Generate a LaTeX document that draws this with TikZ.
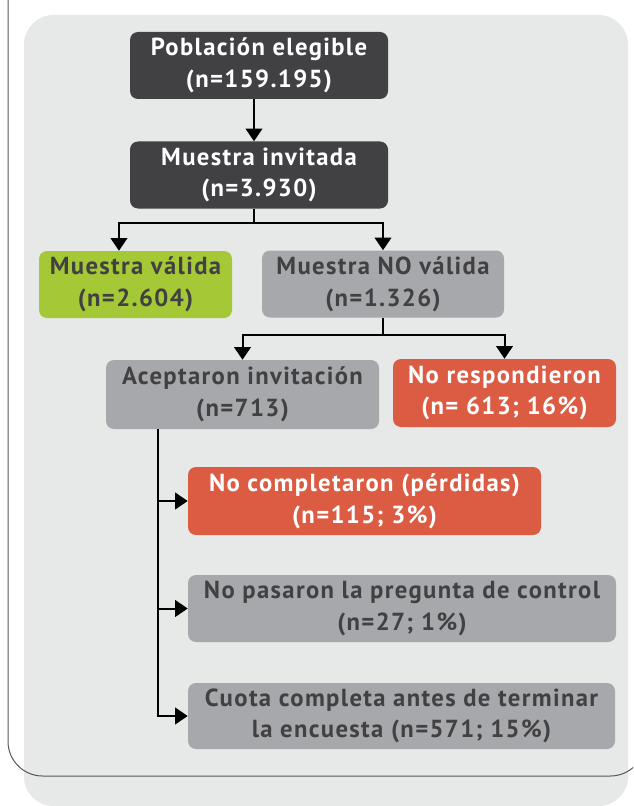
\documentclass[tikz,border=0pt]{standalone}
\usepackage{fontspec}
\setmainfont{PT Sans}
\newfontfamily\cajafont{PT Sans}[LetterSpace=5.5]
\usetikzlibrary{arrows.meta}

\definecolor{fondo}{HTML}{E6E9E8}
\definecolor{oscuro}{HTML}{414042}
\definecolor{verde}{HTML}{A5C936}
\definecolor{gris}{HTML}{A7A8AB}
\definecolor{rojo}{HTML}{DB5B43}
\definecolor{marco}{HTML}{58585A}

\begin{document}
\begin{tikzpicture}[x=0.75pt,y=-0.75pt,
    caja/.style={rounded corners=6pt,align=center,inner sep=0pt,
      font=\cajafont\fontsize{18.5}{23.8}\selectfont\bfseries,minimum height=50.25pt},
    oscura/.style={caja,fill=oscuro,text=white},
    valida/.style={caja,fill=verde,text=oscuro},
    neutra/.style={caja,fill=gris,text=oscuro},
    perdida/.style={caja,fill=rojo,text=white},
    linea/.style={line width=1.5pt},
    flecha/.style={linea,-{Triangle[length=9.5pt,width=12.5pt]}}]

  \useasboundingbox (0,0) rectangle (633,806);
  \clip (0,0) rectangle (633,806);

  % fondo y marco
  \fill[fondo,rounded corners=22pt] (24,15) rectangle (628,806);
  \draw[marco,line width=0.75pt,rounded corners=26pt] (8,-60) -- (8,776) -- (645,776) -- (645,-60);

  \node[oscura,minimum width=193.5pt] (1) at (259,65.5) {Población elegible\\(n=159.195)};
  \node[oscura,minimum width=193.5pt] (2) at (259,175) {Muestra invitada\\(n=3.930)};
  \node[valida,minimum width=144.75pt] (3) at (135.5,284.5) {Muestra válida\\(n=2.604)};
  \node[neutra,minimum width=181.5pt] (4) at (383,284) {Muestra NO válida\\(n=1.326)};
  \node[neutra,minimum width=204.75pt,minimum height=51.75pt] (5) at (242.5,394.5) {Aceptaron invitación\\(n=713)};
  \node[perdida,minimum width=167.25pt,minimum height=51pt] (6) at (504.5,393) {No respondieron\\(n= 613; 16\%)};
  \node[perdida,minimum width=264.75pt,minimum height=51pt] (7) at (364.5,501) {No completaron (pérdidas)\\(n=115; 3\%)};
  \node[neutra,minimum width=321pt] (8) at (402,608.5) {No pasaron la pregunta de control\\(n=27; 1\%)};
  \node[neutra,minimum width=320.25pt,minimum height=49.5pt] (9) at (401.5,716) {Cuota completa antes de terminar\\la encuesta (n=571; 15\%)};

  \coordinate (r1) at (254,223);
  \coordinate (r2) at (383,335);
  \coordinate (r3) at (158,716);

  \draw[flecha] ([xshift=-3.75pt]1.south) -- ([xshift=-3.75pt]2.north);
  \draw[linea] ([xshift=-3.75pt]2.south) -- (r1);
  \draw[flecha] (r1) -| ([xshift=-12.4pt]3.north);
  \draw[flecha] (r1) -| (4.north);
  \draw[linea] (4.south) -- (r2);
  \draw[flecha] (r2) -| (5.north);
  \draw[flecha] (r2) -| (6.north);
  \draw[flecha] (r3 |- 5.south) |- (9.west);
  \draw[flecha] (r3 |- 7.west) -- (7.west);
  \draw[flecha] (r3 |- 8.west) -- (8.west);

\end{tikzpicture}
\end{document}
